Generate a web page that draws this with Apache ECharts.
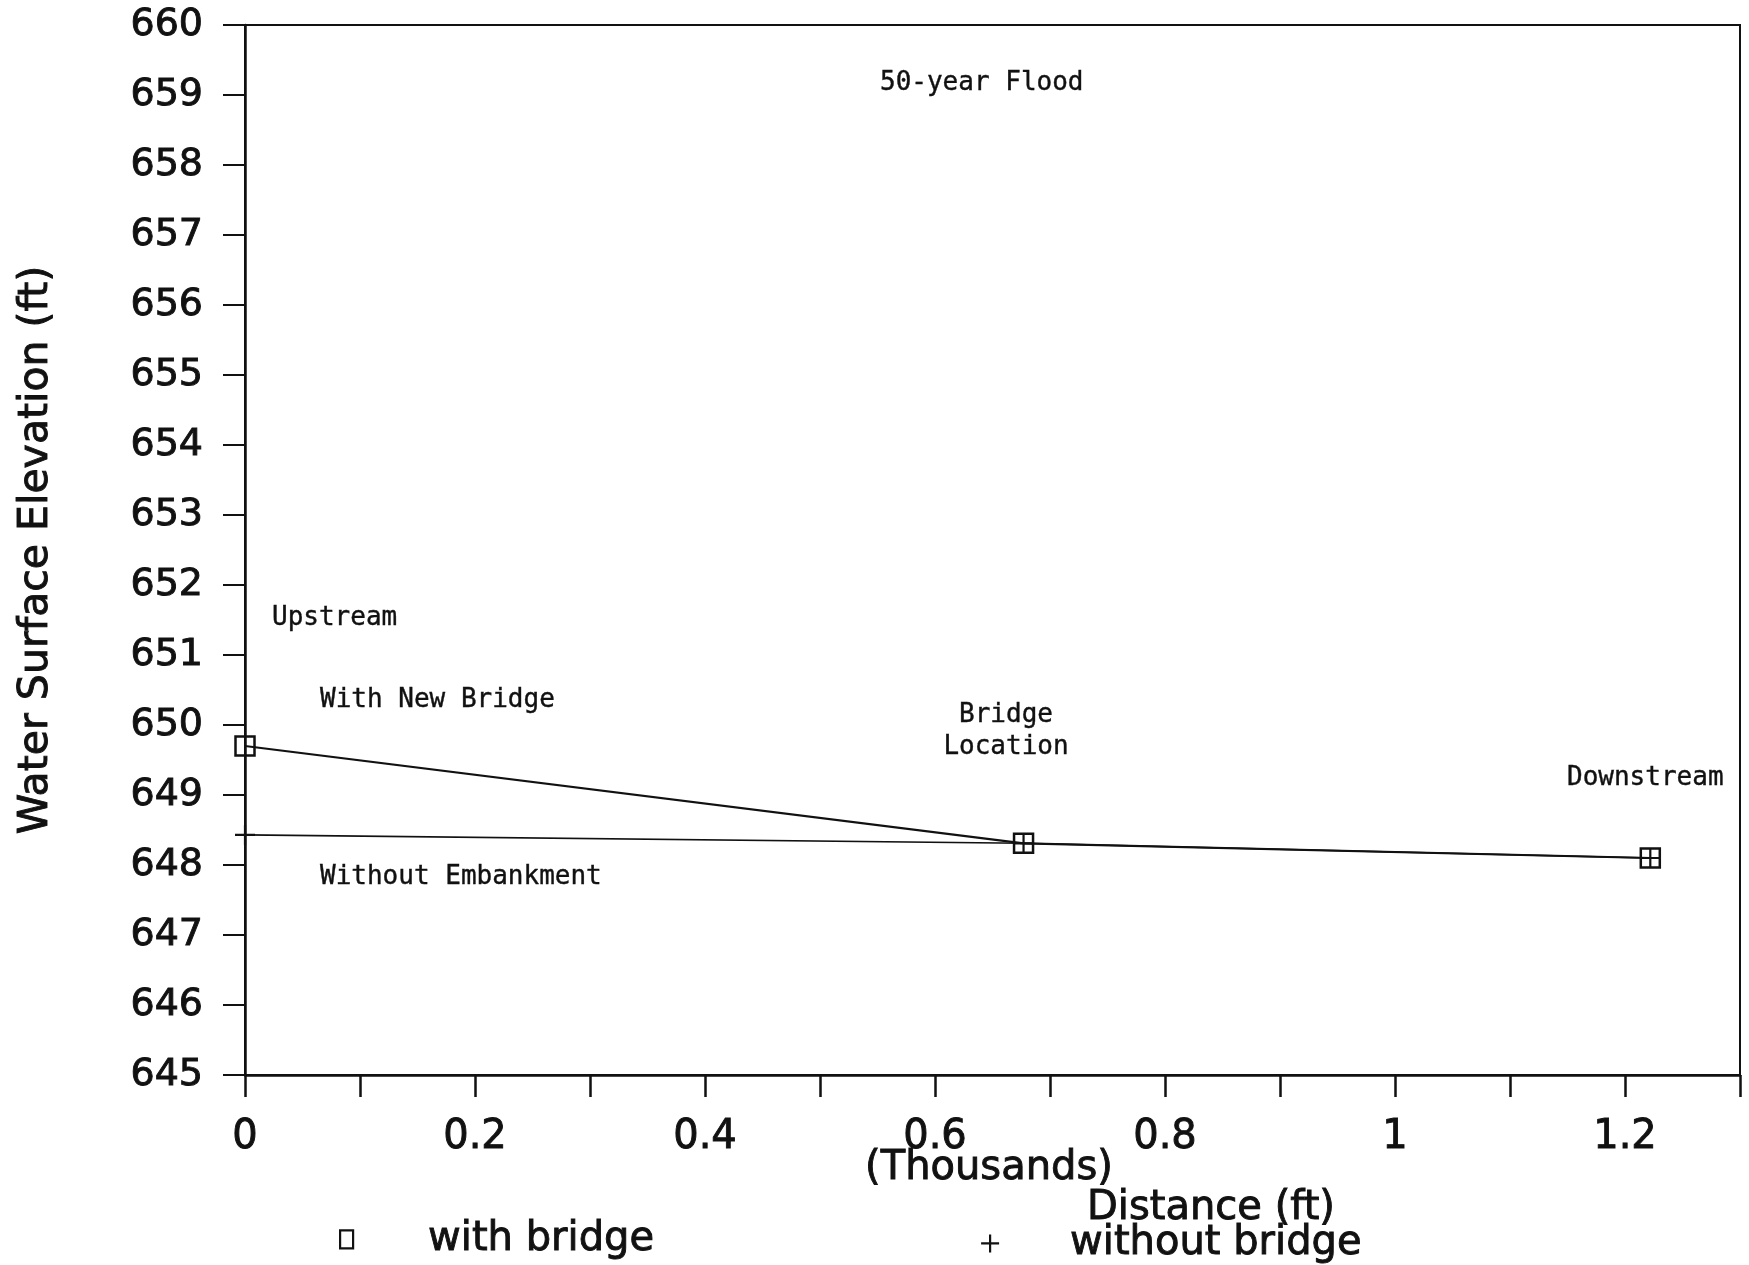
<!DOCTYPE html>
<html>
<head>
<meta charset="utf-8">
<script src="https://cdn.jsdelivr.net/npm/echarts@6/dist/echarts.min.js"></script>
<style>
  html, body { margin: 0; padding: 0; background: #fff; }
  #chart { width: 1749px; height: 1265px; }
</style>
</head>
<body>
<div id="chart"></div>
<script>
// Distance along the channel, in thousands of feet
const distanceK = [0, 0.677, 1.222];
// Water surface elevation (ft), 50-year flood
const withBridge = [649.70, 648.31, 648.10];
const withoutBridge = [648.43, 648.31, 648.10];

// Tick labels on the distance axis (one tick every 0.1, labels every 0.2)
const xTickLabels = ['0', '', '0.2', '', '0.4', '', '0.6', '', '0.8', '', '1', '', '1.2', ''];

const INK = '#111';
const SANS = '"DejaVu Sans", sans-serif';
const MONO = '"DejaVu Sans Mono", monospace';
const PLUS = 'path://M0,10L20,10M10,0L10,20';

function pairs(xs, ys) { return xs.map((x, i) => [x, ys[i]]); }

const chart = echarts.init(document.getElementById('chart'), null, { renderer: 'canvas' });

// Slightly heavier strokes for the printed labels
const heavy = { textBorderColor: INK, textBorderWidth: 0.9 };

const note = (text, x, y, align) => ({
  type: 'text', x: x, y: y, z: 10,
  style: { text: text, font: '26px ' + MONO, fill: INK, stroke: INK, lineWidth: 0.4,
           textAlign: align || 'left', textVerticalAlign: 'middle' }
});

const axisTitle = (text, x, y) => ({
  type: 'text', x: x, y: y, z: 10,
  style: { text: text, font: '40px ' + SANS, fill: INK, stroke: INK, lineWidth: 0.9,
           textAlign: 'center', textVerticalAlign: 'middle' }
});

chart.setOption({
  backgroundColor: '#fff',
  animation: false,
  grid: {
    left: 245, top: 25, right: 9, bottom: 190,
    show: true, borderColor: INK, borderWidth: 2, backgroundColor: 'transparent'
  },
  xAxis: {
    type: 'value', min: 0, max: 1.3, interval: 0.1,
    axisLine: { show: true, lineStyle: { color: INK, width: 2.5 } },
    axisTick: { show: true, inside: false, length: 22, lineStyle: { color: INK, width: 2.5 } },
    axisLabel: Object.assign({
      margin: 43, fontFamily: SANS, fontSize: 40, color: INK,
      formatter: v => xTickLabels[Math.round(v * 10)] || ''
    }, heavy),
    splitLine: { show: false }
  },
  yAxis: {
    type: 'value', min: 645, max: 660, interval: 1,
    name: 'Water Surface Elevation (ft)', nameLocation: 'middle', nameGap: 188,
    nameTextStyle: Object.assign({ fontFamily: SANS, fontSize: 41, color: INK }, heavy),
    axisLine: { show: true, lineStyle: { color: INK, width: 2.5 } },
    axisTick: { show: true, inside: false, length: 22, lineStyle: { color: INK, width: 2 } },
    axisLabel: Object.assign({ margin: 42, fontFamily: SANS, fontSize: 38, color: INK }, heavy),
    splitLine: { show: false }
  },
  legend: [
    {
      data: ['with bridge'], left: 334, top: 1214, orient: 'horizontal',
      icon: 'rect', itemWidth: 13, itemHeight: 18,
      itemStyle: { color: 'transparent', borderColor: INK, borderWidth: 2.2 },
      textStyle: Object.assign({ fontFamily: SANS, fontSize: 40, color: INK, padding: [0, 0, 0, 70] }, heavy)
    },
    {
      data: ['without bridge'], left: 975, top: 1218, orient: 'horizontal',
      icon: PLUS, itemWidth: 18, itemHeight: 18,
      itemStyle: { color: 'transparent', borderColor: INK, borderWidth: 2.2 },
      textStyle: Object.assign({ fontFamily: SANS, fontSize: 40, color: INK, padding: [0, 0, 0, 66] }, heavy)
    }
  ],
  series: [
    {
      name: 'without bridge', type: 'line', data: pairs(distanceK, withoutBridge),
      symbol: PLUS, symbolSize: 20, showAllSymbol: true,
      lineStyle: { color: INK, width: 1.6 },
      itemStyle: { color: 'transparent', borderColor: INK, borderWidth: 2.2 },
      emphasis: { disabled: true }, z: 3
    },
    {
      name: 'with bridge', type: 'line', data: pairs(distanceK, withBridge),
      symbol: 'rect', symbolSize: 19, showAllSymbol: true,
      lineStyle: { color: INK, width: 2.2 },
      itemStyle: { color: 'transparent', borderColor: INK, borderWidth: 2.5 },
      emphasis: { disabled: true }, z: 4
    }
  ],
  graphic: [
    note('50-year Flood', 880, 83),
    note('Upstream', 272, 618),
    note('With New Bridge', 320, 700),
    note('Bridge', 1006, 715, 'center'),
    note('Location', 1006, 747, 'center'),
    note('Downstream', 1567, 778),
    note('Without Embankment', 320, 877),
    axisTitle('(Thousands)', 989, 1169),
    axisTitle('Distance (ft)', 1211, 1209)
  ]
});
</script>
</body>
</html>
